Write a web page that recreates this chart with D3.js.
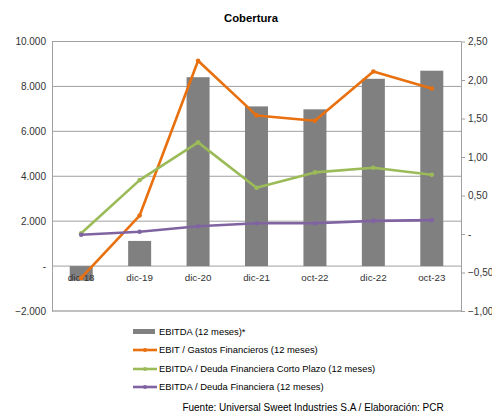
<!DOCTYPE html>
<html><head><meta charset="utf-8">
<script src="https://cdn.jsdelivr.net/npm/d3@7"></script>
<style>body{margin:0;background:#fff;font-family:"Liberation Sans",Arial,sans-serif;}</style>
</head><body><svg id="c" width="492" height="415"></svg>
<script>
const categories = ["dic-18","dic-19","dic-20","dic-21","oct-22","dic-22","oct-23"];
const ebitda = [-650, 1120, 8410, 7110, 6980, 8340, 8700];
const ebitGastos = [-0.57, 0.24, 2.25, 1.54, 1.47, 2.11, 1.89];
const ebitdaDeudaCP = [0.01, 0.70, 1.19, 0.60, 0.80, 0.86, 0.77];
const ebitdaDeuda = [-0.01, 0.03, 0.10, 0.14, 0.14, 0.17, 0.18];
const leftTicks = [-2000, 0, 2000, 4000, 6000, 8000, 10000];
const rightTicks = [-1, -0.5, 0, 0.5, 1, 1.5, 2, 2.5];
const seriesNames = ["EBITDA (12 meses)*","EBIT / Gastos Financieros (12 meses)","EBITDA / Deuda Financiera Corto Plazo (12 meses)","EBITDA / Deuda Financiera (12 meses)"];
const colors = ["#808080","#E8700E","#9BBB59","#8064A2"];

const svg = d3.select("#c");
const L = 52, R = 461, T = 41.5, B = 311;
const x = d3.scaleBand().domain(categories).range([L, R]);
const yL = d3.scaleLinear().domain([-2000, 10000]).range([B, T]);
const yR = d3.scaleLinear().domain([-1, 2.5]).range([B, T]);
const fmtL = v => v === 0 ? "-" : d3.format(",")(v).replace(/,/g, ".");
const fmtR = v => v === 0 ? "-" : d3.format(".2f")(v).replace(".", ",");

svg.append("text").attr("x", 251).attr("y", 22).attr("text-anchor","middle")
  .attr("font-size", 11.3).attr("font-weight","bold").attr("fill","#000").text("Cobertura");

// gridlines
svg.append("g").selectAll("line").data(leftTicks).join("line")
  .attr("x1", L).attr("x2", R).attr("y1", d => yL(d)).attr("y2", d => yL(d))
  .attr("stroke", d => d === -2000 ? "#c0c0c0" : "#a0a0a0").attr("stroke-width", d => d === -2000 ? 2 : 1);

// left axis
const gL = svg.append("g").attr("transform", `translate(${L},0)`)
  .call(d3.axisLeft(yL).tickValues(leftTicks).tickFormat(fmtL).tickSize(0).tickPadding(6));
gL.select(".domain").attr("stroke", "#a0a0a0");
gL.selectAll("text").attr("font-size", 10).attr("fill", "#333").attr("font-family","Liberation Sans, Arial, sans-serif");

// right axis
const gR = svg.append("g").attr("transform", `translate(${R},0)`)
  .call(d3.axisRight(yR).tickValues(rightTicks).tickFormat(fmtR).tickSizeInner(4).tickSizeOuter(0).tickPadding(3));
gR.select(".domain").attr("stroke", "#a0a0a0");
gR.selectAll("line").attr("stroke", "#a0a0a0");
gR.selectAll("text").attr("font-size", 10).attr("fill", "#333").attr("font-family","Liberation Sans, Arial, sans-serif");

// bars
const bw = 23;
svg.append("g").selectAll("rect").data(ebitda).join("rect")
  .attr("x", (d,i) => x(categories[i]) + x.bandwidth()/2 - bw/2)
  .attr("width", bw)
  .attr("y", d => Math.min(yL(d), yL(0)))
  .attr("height", d => Math.abs(yL(d) - yL(0)))
  .attr("fill", colors[0]);

// category labels
svg.append("g").selectAll("text").data(categories).join("text")
  .attr("x", d => x(d) + x.bandwidth()/2).attr("y", yL(0) + 15)
  .attr("text-anchor","middle").attr("font-size", 9.8).attr("fill","#333").text(d => d);

// lines
const lineSeries = [ebitGastos, ebitdaDeudaCP, ebitdaDeuda];
const line = d3.line().x((d,i) => x(categories[i]) + x.bandwidth()/2).y(d => yR(d));
lineSeries.forEach((s, k) => {
  svg.append("path").datum(s).attr("d", line).attr("fill","none")
    .attr("stroke", colors[k+1]).attr("stroke-width", 2.6).attr("stroke-linejoin","round");
  svg.append("g").selectAll("circle").data(s).join("circle")
    .attr("cx", (d,i) => x(categories[i]) + x.bandwidth()/2).attr("cy", d => yR(d))
    .attr("r", 2.3).attr("fill", colors[k+1]);
});

// legend
const ly = [332, 350, 369, 387];
const lg = svg.append("g");
seriesNames.forEach((n, i) => {
  if (i === 0) {
    lg.append("rect").attr("x", 133).attr("y", ly[i]-3).attr("width", 22).attr("height", 5).attr("fill", colors[0]);
  } else {
    lg.append("line").attr("x1", 133).attr("x2", 157).attr("y1", ly[i]).attr("y2", ly[i])
      .attr("stroke", colors[i]).attr("stroke-width", 2.6);
    lg.append("circle").attr("cx", 145).attr("cy", ly[i]).attr("r", 2).attr("fill", colors[i]);
  }
  lg.append("text").attr("x", 159).attr("y", ly[i] + 3.4).attr("font-size", 9.4).attr("fill","#000").text(n);
});

svg.append("text").attr("x", 313).attr("y", 411).attr("text-anchor","middle")
  .attr("font-size", 10).attr("fill","#000").text("Fuente: Universal Sweet Industries S.A / Elaboración: PCR");
</script></body></html>
